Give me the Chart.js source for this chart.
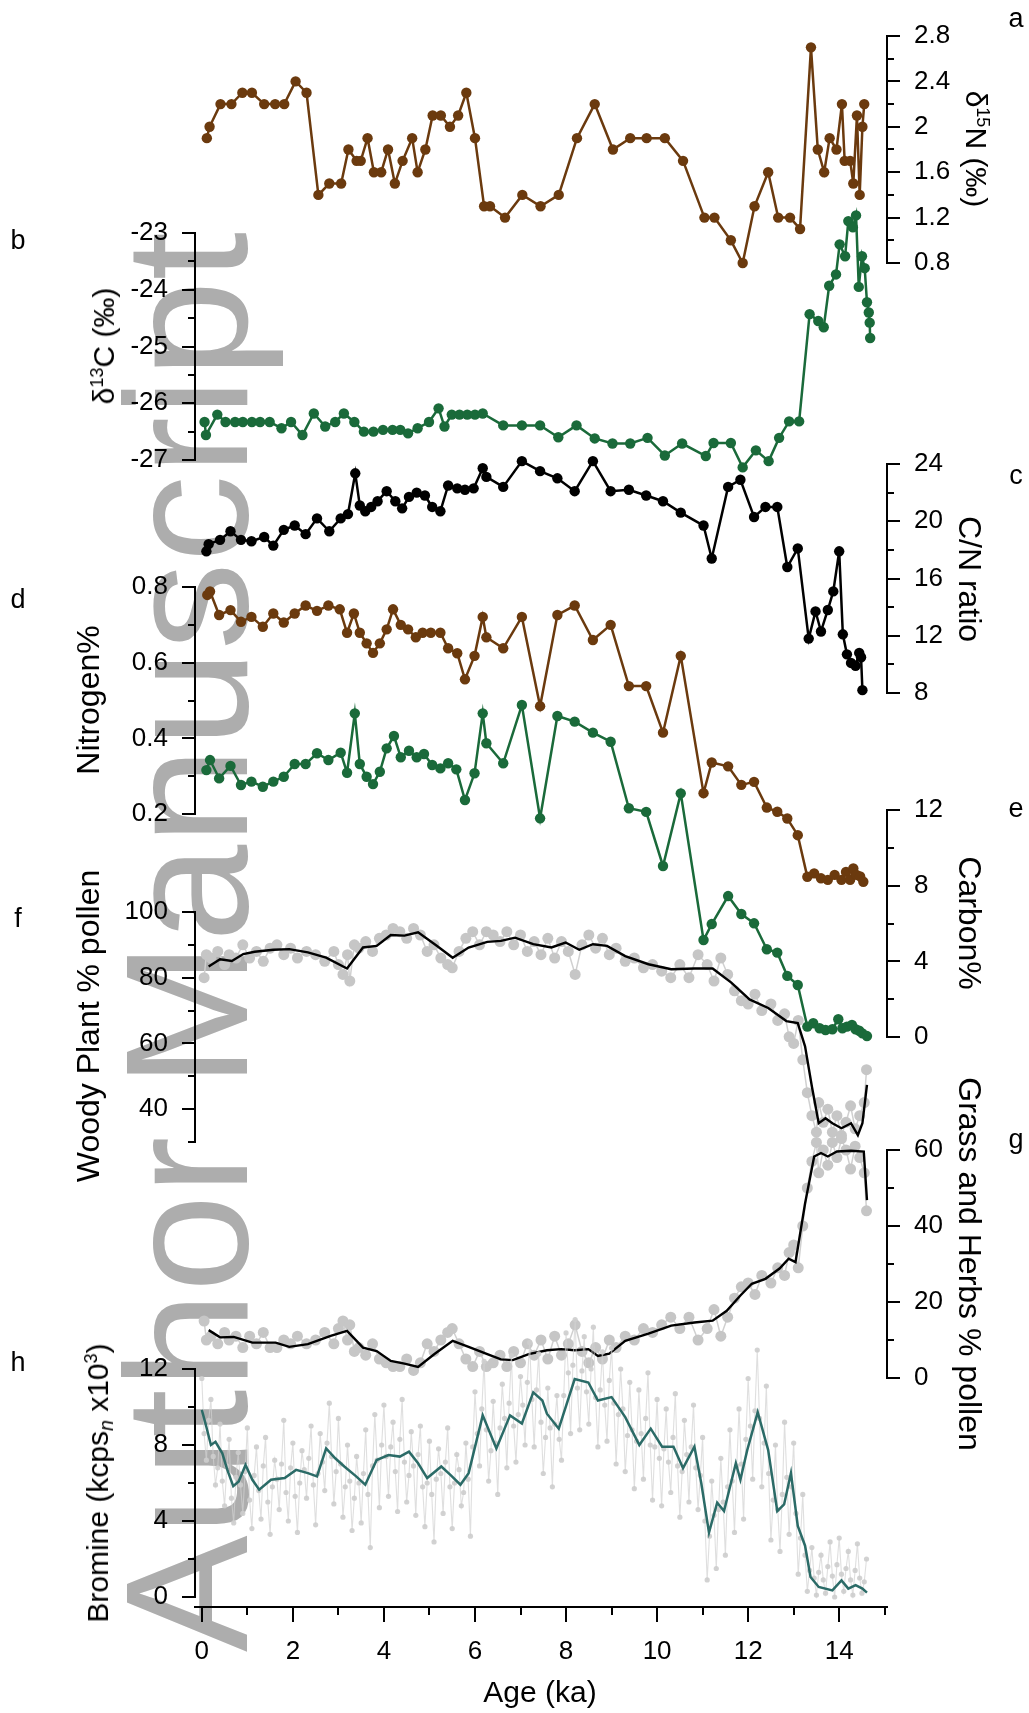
<!DOCTYPE html>
<html>
<head>
<meta charset="utf-8">
<script src="https://cdn.jsdelivr.net/npm/chart.js@4.4.0/dist/chart.umd.min.js"></script>
<style>
html,body{margin:0;padding:0;background:#fff;}
#wrap{position:relative;width:1029px;height:1713px;overflow:hidden;font-family:'Liberation Sans',Arial,sans-serif;background:#fff;}
canvas{position:absolute;left:0;top:0;}
.wm{position:absolute;left:0;top:0;white-space:nowrap;font-size:175px;line-height:1;color:#adadad;transform-origin:0 0;transform:translate(99px,1652px) rotate(-90deg);}
.t{position:absolute;white-space:nowrap;color:#000;font-size:32px;line-height:1;}
.l{transform:translate(-50%,-50%) rotate(-90deg);}
.r{transform:translate(-50%,-50%) rotate(90deg);}
.c{transform:translate(-50%,-50%);}
.lt{font-size:27px;}
.ax{font-size:30px;}
sup{font-size:0.6em;vertical-align:0.6em;line-height:0;}
sub{font-size:0.65em;vertical-align:-0.25em;line-height:0;}
</style>
</head>
<body>
<div id="wrap">
<div class="wm">Author Manuscript</div>
</div>
<script>
// ---------------- data ----------------
const aAge = [0.11,0.17,0.41,0.65,0.89,1.10,1.37,1.61,1.81,2.06,2.30,2.56,2.80,3.06,3.22,3.40,3.49,3.64,3.78,3.94,4.09,4.24,4.41,4.62,4.74,4.91,5.07,5.25,5.45,5.63,5.81,6.00,6.20,6.33,6.66,7.04,7.44,7.84,8.24,8.63,9.03,9.41,9.77,10.17,10.57,11.04,11.26,11.62,11.88,12.14,12.44,12.66,12.92,13.14,13.38,13.53,13.67,13.79,13.94,14.06,14.12,14.24,14.31,14.39,14.45,14.51,14.55];
const d15N = [1.9,2.0,2.2,2.2,2.3,2.3,2.2,2.2,2.2,2.4,2.3,1.4,1.5,1.5,1.8,1.7,1.7,1.9,1.6,1.6,1.8,1.5,1.7,1.9,1.6,1.8,2.1,2.1,2.0,2.1,2.3,1.9,1.3,1.3,1.2,1.4,1.3,1.4,1.9,2.2,1.8,1.9,1.9,1.9,1.7,1.2,1.2,1.0,0.8,1.3,1.6,1.2,1.2,1.1,2.7,1.8,1.6,1.9,1.8,2.2,1.7,1.7,1.5,2.1,1.4,2.0,2.2];

const bAge = [0.06,0.09,0.34,0.52,0.73,0.90,1.10,1.28,1.49,1.75,1.96,2.21,2.46,2.71,2.93,3.12,3.35,3.56,3.77,3.98,4.19,4.36,4.53,4.74,4.99,5.20,5.33,5.49,5.66,5.83,6.00,6.17,6.62,7.03,7.43,7.83,8.23,8.63,9.02,9.41,9.79,10.17,10.55,11.07,11.24,11.62,11.88,12.17,12.45,12.68,12.90,13.12,13.35,13.54,13.66,13.78,13.93,14.01,14.13,14.20,14.30,14.37,14.43,14.50,14.56,14.61,14.65,14.67,14.68];
const d13C = [-26.33,-26.56,-26.2,-26.33,-26.33,-26.33,-26.33,-26.33,-26.33,-26.44,-26.33,-26.56,-26.18,-26.41,-26.33,-26.18,-26.33,-26.5,-26.5,-26.47,-26.47,-26.47,-26.53,-26.44,-26.33,-26.09,-26.41,-26.2,-26.2,-26.2,-26.2,-26.18,-26.39,-26.39,-26.39,-26.6,-26.39,-26.62,-26.71,-26.71,-26.61,-26.92,-26.71,-26.93,-26.7,-26.7,-27.13,-26.83,-27.02,-26.61,-26.32,-26.32,-24.43,-24.55,-24.66,-23.93,-23.73,-23.2,-23.41,-22.79,-22.9,-22.69,-23.95,-23.41,-23.62,-24.22,-24.4,-24.58,-24.85];

const cAge = [0.10,0.15,0.40,0.63,0.86,1.09,1.37,1.57,1.80,2.04,2.28,2.53,2.80,3.05,3.21,3.37,3.47,3.59,3.72,3.86,4.06,4.25,4.40,4.55,4.72,4.90,5.06,5.24,5.41,5.61,5.78,5.97,6.17,6.25,6.62,7.03,7.43,7.81,8.19,8.59,8.98,9.38,9.76,10.13,10.52,11.02,11.20,11.56,11.83,12.13,12.38,12.64,12.86,13.09,13.33,13.48,13.60,13.75,13.87,14.00,14.08,14.17,14.26,14.36,14.44,14.48,14.51];
const cnRatio = [17.9,18.4,18.7,19.3,18.7,18.6,18.9,18.3,19.4,19.7,19.1,20.2,19.3,20.2,20.5,23.35,21.1,20.7,21.0,21.4,22.1,21.4,20.9,21.7,22.0,21.8,21.0,20.7,22.5,22.3,22.2,22.3,23.7,23.1,22.4,24.2,23.5,23.0,22.1,24.2,22.1,22.2,21.8,21.4,20.6,19.7,17.4,22.4,22.9,20.3,21.0,21.0,16.8,18.1,11.8,13.7,12.3,13.8,15.1,17.9,12.1,10.7,10.1,9.9,10.8,10.5,8.2];

const dAge = [0.12,0.18,0.38,0.63,0.86,1.09,1.34,1.57,1.80,2.04,2.28,2.53,2.78,3.03,3.19,3.34,3.47,3.62,3.76,3.91,4.06,4.20,4.37,4.53,4.70,4.85,5.03,5.24,5.41,5.61,5.78,5.99,6.17,6.25,6.62,7.03,7.43,7.81,8.19,8.59,8.98,9.38,9.76,10.13,10.52,11.02,11.20,11.56,11.85,12.13,12.41,12.64,12.86,13.09,13.30,13.45,13.60,13.75,13.90,14.05,14.15,14.24,14.31,14.38,14.46,14.53];
const nitrogen = [0.779,0.788,0.726,0.739,0.708,0.721,0.695,0.730,0.706,0.730,0.751,0.737,0.751,0.741,0.679,0.730,0.679,0.651,0.626,0.651,0.688,0.741,0.700,0.688,0.667,0.679,0.679,0.679,0.638,0.625,0.556,0.618,0.721,0.667,0.638,0.721,0.485,0.726,0.751,0.660,0.700,0.538,0.538,0.415,0.618,0.255,0.336,0.326,0.277,0.285,0.217,0.206,0.188,0.144,0.034,0.043,0.030,0.026,0.039,0.026,0.047,0.026,0.056,0.039,0.035,0.021];

const eAge = [0.10,0.18,0.38,0.63,0.86,1.09,1.34,1.57,1.80,2.04,2.28,2.53,2.78,3.05,3.19,3.36,3.47,3.62,3.76,3.91,4.06,4.22,4.37,4.55,4.72,4.88,5.06,5.24,5.41,5.59,5.78,5.99,6.17,6.25,6.62,7.03,7.43,7.81,8.19,8.59,8.98,9.38,9.76,10.13,10.52,11.02,11.20,11.56,11.85,12.13,12.41,12.64,12.86,13.09,13.30,13.43,13.57,13.70,13.85,13.98,14.07,14.17,14.28,14.36,14.44,14.51,14.61];
const carbon = [14.11,14.64,13.67,14.33,13.32,13.50,13.23,13.50,13.76,14.43,14.43,15.0,14.64,15.03,13.97,17.11,14.43,13.76,13.37,14.02,15.26,15.91,14.79,15.13,14.79,14.96,14.38,14.20,14.47,14.15,12.53,13.94,17.11,15.53,14.47,17.55,11.56,16.97,16.67,16.09,15.61,12.09,11.9,9.04,12.88,5.13,5.97,7.45,6.50,6.01,4.64,4.46,3.23,2.75,0.55,0.73,0.46,0.37,0.41,0.94,0.46,0.55,0.64,0.41,0.33,0.19,0.05];

const pollenAge = [0.05,0.1,0.2,0.35,0.5,0.6,0.75,0.9,1.05,1.2,1.35,1.5,1.65,1.8,1.95,2.1,2.3,2.5,2.7,2.9,3.0,3.1,3.2,3.25,3.35,3.45,3.6,3.75,3.9,4.05,4.2,4.35,4.5,4.65,4.8,4.95,5.1,5.25,5.4,5.5,5.65,5.8,5.95,6.1,6.25,6.4,6.55,6.7,6.85,7.0,7.15,7.3,7.45,7.6,7.75,7.9,8.05,8.2,8.35,8.5,8.65,8.8,8.95,9.1,9.3,9.5,9.7,9.9,10.1,10.3,10.5,10.7,10.9,11.1,11.25,11.4,11.55,11.7,11.85,12.0,12.15,12.3,12.5,12.65,12.8,12.9,13.0,13.1,13.2,13.3,13.4,13.5,13.55,13.65,13.75,13.85,13.95,14.05,14.15,14.25,14.35,14.45,14.55,14.6];
const woodyRaw = [80,87,86,88,84,87,86,90,86,88,85,89,90,87,89,86,88,87,85,88,84,81,87,79,90,89,91,88,92,93,95,94,92,95,93,88,90,86,84,83,88,92,94,90,94,93,91,94,90,93,88,91,87,92,86,91,88,81,90,93,89,92,87,89,85,86,83,84,82,80,84,80,87,84,79,86,81,76,73,72,75,70,72,67,69,62,60,67,55,45,38,33,42,36,40,33,38,32,36,41,34,38,42,52];
const grassRaw = [15,10,11,9,12,10,11,8,11,9,12,8,8,10,9,11,9,10,12,9,13,15,10,14,7,8,6,9,5,4,3,3,5,2,4,9,7,10,12,13,9,5,3,7,3,4,6,3,7,4,9,6,10,5,11,6,9,14,7,4,8,5,10,8,11,10,13,12,14,16,13,16,10,13,18,11,16,21,24,25,22,27,25,29,27,33,35,29,40,50,57,62,54,60,56,62,58,63,60,55,61,58,54,44];

const fAge = [0.15,0.40,0.66,0.91,1.16,1.57,1.92,2.33,2.73,3.19,3.54,3.84,4.15,4.45,4.75,5.16,5.51,5.86,6.27,6.57,6.88,7.28,7.68,7.99,8.29,8.59,8.90,9.30,9.81,10.31,10.82,11.22,11.63,12.03,12.44,12.84,13.09,13.25,13.40,13.55,13.70,13.85,14.05,14.26,14.41,14.51,14.61];
const woodySmooth = [83.4,85.6,85.1,87.2,87.9,88.5,88.7,87.7,86.1,82.8,89.2,89.7,93.0,92.8,93.8,89.7,86.1,89.2,90.9,91.2,92.2,90.2,89.2,90.7,88.5,90.2,89.7,86.6,84.1,82.6,82.8,82.8,78.5,73.4,70.8,66.8,66.2,59.1,46.9,35.7,37.2,35.7,34.2,35.7,32.1,35.7,47.4];

const gAge = [0.15,0.40,0.70,1.11,1.62,1.92,2.33,2.83,3.19,3.54,3.84,4.15,4.45,4.75,5.11,5.51,5.86,6.27,6.57,6.83,7.18,7.58,7.89,8.19,8.49,8.70,8.95,9.30,9.81,10.31,10.82,11.22,11.53,11.83,12.08,12.38,12.69,12.89,13.04,13.25,13.45,13.60,13.75,13.95,14.26,14.54,14.61];
const grassSmooth = [12.6,10.7,10.8,9.3,9.3,8.2,8.9,11.1,12.4,8.0,7.1,4.5,3.8,2.9,6.3,9.8,8.2,6.3,4.9,4.7,6.3,7.3,7.6,7.3,7.6,5.8,6.4,9.8,11.7,13.8,14.6,15.1,17.7,21.7,24.8,26.1,28.8,31.4,30.5,45.9,58.3,59.2,58.3,59.6,59.8,59.6,46.8];

const brAgeA = [0.0,0.1,0.2,0.3,0.4,0.5,0.6,0.7,0.8,0.9,1.0,1.1,1.2,1.3,1.4,1.5,1.6,1.7,1.8,1.9,2.0,2.1,2.2,2.3,2.4,2.5,2.6,2.7,2.8,2.9,3.0,3.1,3.2,3.3,3.4,3.5,3.6,3.7,3.8,3.9,4.0,4.1,4.2,4.3,4.4,4.5,4.6,4.7,4.8,4.9,5.0,5.1,5.2,5.3,5.4,5.5,5.6,5.7,5.8,5.9,6.0,6.1,6.2,6.3,6.4,6.5,6.6,6.7,6.8,6.9,7.0,7.1,7.2,7.3,7.4,7.5,7.6,7.7,7.8,7.9,8.0,8.1,8.2,8.3,8.4,8.5,8.6,8.7,8.8,8.9,9.0,9.1,9.2,9.3,9.4,9.5,9.6,9.7,9.8,9.9,10.0,10.1,10.2,10.3,10.4,10.5,10.6,10.7,10.8,10.9,11.0,11.1,11.2,11.3,11.4,11.5,11.6,11.7,11.8,11.9,12.0,12.1,12.2,12.3,12.4,12.5,12.6,12.7,12.8,12.9,13.0,13.1,13.2,13.3,13.4,13.5,13.6,13.7,13.8,13.9,14.0,14.1,14.2,14.3,14.4,14.5,14.6];
const brRawA = [11.5,7.2,10.4,5.9,9.1,4.8,8.3,3.9,7.6,4.4,8.9,3.6,7.9,4.1,8.4,3.3,7.2,4.6,9.3,4.0,8.1,3.4,7.7,5.2,9.0,3.8,8.6,5.6,10.2,4.9,9.4,4.2,8.0,3.5,7.4,3.9,8.8,2.6,9.6,4.7,10.1,5.3,9.2,4.5,10.4,5.0,8.7,4.3,9.0,3.7,8.2,2.9,7.8,4.4,8.9,3.6,7.5,4.8,8.1,3.2,10.8,6.9,12.4,6.1,10.3,5.4,11.2,6.8,12.7,7.1,11.6,8.0,13.4,7.9,12.8,6.5,11.0,5.8,10.6,7.2,13.9,8.6,14.6,8.8,13.7,9.1,14.2,7.9,12.9,8.2,13.1,7.0,12.0,6.6,11.3,5.7,10.9,6.2,11.8,5.1,10.4,4.8,9.9,5.5,10.7,4.2,9.3,5.0,10.1,4.6,8.4,0.9,6.1,1.5,7.3,2.2,8.8,3.4,9.9,4.1,11.5,6.2,13.0,5.8,11.1,3.0,8.0,2.4,9.2,3.3,8.1,1.2,5.4,0.3,2.6,0.1,2.2,0.2,2.9,0.0,3.1,0.3,2.4,0.1,2.8,0.2,2.0];
const brAgeB = [0.05,0.15,0.25,0.35,0.45,0.55,0.65,0.75,0.85,0.95,1.05,1.15,1.25,1.35,1.45,1.55,1.65,1.75,1.85,1.95,2.05,2.15,2.25,2.35,2.45,2.55,2.65,2.75,2.85,2.95,3.05,3.15,3.25,3.35,3.45,3.55,3.65,3.75,3.85,3.95,4.05,4.15,4.25,4.35,4.45,4.55,4.65,4.75,4.85,4.95,5.05,5.15,5.25,5.35,5.45,5.55,5.65,5.75,5.85,5.95,6.05,6.15,6.25,6.35,6.45,6.55,6.65,6.75,6.85,6.95,7.05,7.15,7.25,7.35,7.45,7.55,7.65,7.75,7.85,7.95,8.05,8.15,8.25,8.35,8.45,8.55,8.65,8.75,8.85,8.95,9.05,9.15,9.25,9.35,9.45,9.55,9.65,9.75,9.85,9.95,10.05,10.15,10.25,10.35,10.45,10.55,10.65,10.75,10.85,10.95,11.05,11.15,11.25,11.35,11.45,11.55,11.65,11.75,11.85,11.95,12.05,12.15,12.25,12.35,12.45,12.55,12.65,12.75,12.85,12.95,13.05,13.15,13.25,13.35,13.45,13.55,13.65,13.75,13.85,13.95,14.05,14.15,14.25,14.35,14.45,14.55];
const brRawB = [8.6,9.3,7.4,6.8,6.1,6.9,5.2,6.3,5.9,6.6,5.1,6.4,5.6,6.9,5.0,5.8,6.2,7.0,5.5,6.8,5.3,6.0,6.7,7.3,5.9,6.5,7.1,8.1,7.4,6.6,7.0,5.8,6.1,5.2,6.0,6.5,5.4,6.9,7.2,8.0,7.4,7.9,6.6,8.3,7.1,6.4,6.9,7.5,5.8,6.0,5.4,6.2,6.5,7.1,5.8,6.0,6.7,5.5,6.2,7.9,8.6,9.9,8.8,7.7,8.1,8.9,9.4,10.2,9.0,9.6,10.1,11.3,10.4,10.9,9.2,8.4,8.9,9.1,8.3,10.6,11.8,12.2,11.0,11.9,10.8,12.0,10.5,10.9,10.1,11.4,10.2,9.6,9.9,8.5,8.8,8.2,8.6,9.4,8.0,7.9,7.3,7.8,7.1,8.4,6.9,6.6,7.5,7.9,6.8,6.4,4.0,3.2,4.3,4.6,5.0,5.8,6.1,6.9,7.0,8.3,9.0,9.8,9.4,8.1,6.5,5.1,4.6,5.4,6.3,5.8,4.4,3.1,2.2,1.4,1.0,1.3,0.9,1.6,1.1,1.7,1.2,1.5,0.9,1.4,1.0,0.8];

const hAge = [0.0,0.1,0.2,0.3,0.45,0.56,0.69,0.81,0.96,1.11,1.26,1.52,1.82,2.07,2.33,2.53,2.73,2.93,3.13,3.39,3.59,3.84,4.10,4.35,4.55,4.75,4.95,5.26,5.46,5.68,5.86,6.17,6.47,6.77,7.03,7.28,7.48,7.58,7.84,8.19,8.49,8.70,9.00,9.30,9.61,9.86,10.11,10.36,10.57,10.82,10.97,11.14,11.32,11.47,11.73,11.83,11.98,12.21,12.44,12.64,12.79,12.94,13.09,13.25,13.37,13.55,13.85,14.05,14.20,14.36,14.51,14.61];
const brSmooth = [9.85,8.95,8.0,8.17,7.56,6.69,5.83,6.08,6.95,6.17,5.65,6.17,6.26,6.69,6.52,6.35,7.82,7.3,6.87,6.35,5.91,7.21,7.47,7.39,7.65,7.04,6.26,6.87,6.43,5.91,6.52,9.56,7.82,9.56,9.13,10.77,10.34,9.65,8.86,11.47,11.29,10.34,10.52,9.47,8.0,8.86,7.91,7.91,6.78,7.91,6.0,3.39,4.96,4.52,7.04,6.17,7.73,9.73,7.73,4.52,4.87,6.52,3.74,2.7,1.05,0.53,0.35,0.87,0.44,0.62,0.44,0.23];

// tick values
const xMajor = [0,2,4,6,8,10,12,14];
const xMinor = [1,3,5,7,9,11,13,15];
const aMajor = [0.8,1.2,1.6,2,2.4,2.8], aMinor = [1.0,1.4,1.8,2.2,2.6];
const bMajor = [-27,-26,-25,-24,-23], bMinor = [-26.5,-25.5,-24.5,-23.5];
const cMajor = [8,12,16,20,24], cMinor = [10,14,18,22];
const dMajor = [0.2,0.4,0.6,0.8], dMinor = [0.3,0.5,0.7];
const eMajor = [0,4,8,12], eMinor = [2,6,10];
const fMajor = [40,60,80,100], fMinor = [30,50,70,90];
const gMajor = [0,20,40,60], gMinor = [10,30,50];
const hMajor = [0,4,8,12], hMinor = [2,6,10];

// ---------------- layout ----------------
const W = 1029, H = 1713;
const X_MIN = -0.15, X_MAX = 15.05;
const LEFT = 195, RIGHT = 887;
const FONT = "'Liberation Sans', Arial, sans-serif";
const BROWN = '#6b3a0e', GREEN = '#1a6a3a', TEAL = '#2b6b67';
const wrap = document.getElementById('wrap');

function pts(ages, vals){ return ages.map((a,i)=>({x:a, y:vals[i]})); }

// minor ticks drawn from the scale's own pixel mapping
Chart.register({
  id:'minorTicks',
  afterDraw(chart, args, opts){
    const ctx = chart.ctx, ca = chart.chartArea;
    (opts.items||[]).forEach(it=>{
      const sc = chart.scales[it.scale];
      ctx.save(); ctx.strokeStyle='#000'; ctx.lineWidth=2; ctx.beginPath();
      it.values.forEach(v=>{
        const p = Math.round(sc.getPixelForValue(v));
        if (it.side==='left'){ ctx.moveTo(ca.left, p); ctx.lineTo(ca.left - it.len, p); }
        else if (it.side==='right'){ ctx.moveTo(ca.right, p); ctx.lineTo(ca.right + it.len, p); }
        else { ctx.moveTo(p, ca.bottom); ctx.lineTo(p, ca.bottom + it.len); }
      });
      ctx.stroke(); ctx.restore();
    });
  }
});
// let points outside a panel's own axis range still be drawn (data overflow as in the figure)
Chart.register({
  id:'freePoints',
  beforeDatasetsDraw(chart){
    chart.$savedArea = chart.chartArea;
    chart.chartArea = {left:0, top:0, right:chart.width, bottom:chart.height, width:chart.width, height:chart.height};
  },
  afterDatasetsDraw(chart){ if (chart.$savedArea) chart.chartArea = chart.$savedArea; }
});

function newCanvas(){
  const cv = document.createElement('canvas');
  cv.width = W; cv.height = H;
  cv.style.width = W+'px'; cv.style.height = H+'px';
  wrap.appendChild(cv);
  return cv;
}

function markerSet(data, color){
  return {data, borderColor:color, backgroundColor:color, pointBackgroundColor:color,
    borderWidth:2.5, pointRadius:5.2, pointBorderWidth:0, tension:0, clip:false};
}

function panel(cfg){
  const side = cfg.side;
  new Chart(newCanvas(), {
    type:'line',
    data:{datasets:cfg.datasets},
    options:{
      responsive:false, animation:false, events:[], devicePixelRatio:1,
      layout:{padding:{top:cfg.top, bottom:H-cfg.bottom, left: side==='left'?0:LEFT, right: side==='left'?W-RIGHT:0}},
      plugins:{legend:{display:false}, tooltip:{enabled:false},
        minorTicks:{items:[{scale:'y', side:side, len:7, values:cfg.minor}]}},
      scales:{
        x:{type:'linear', min:X_MIN, max:X_MAX, display:false},
        y:{type:'linear', position:side, min:cfg.min, max:cfg.max,
          afterFit:s=>{ s.width = side==='left'?LEFT:W-RIGHT; },
          afterBuildTicks:s=>{ s.ticks = cfg.major.map(v=>({value:v})); },
          border:{display:true, color:'#000', width:2},
          grid:{drawOnChartArea:false, drawTicks:true, tickLength:13, color:'#000', lineWidth:2},
          ticks:{color:'#000', autoSkip:false, padding:14, font:{family:FONT, size:26}, callback:v=>String(v)}
        }
      }
    }
  });
}

// a: d15N (right)
panel({side:'right', top:36, bottom:263, min:0.8, max:2.8, major:aMajor, minor:aMinor,
  datasets:[markerSet(pts(aAge,d15N), BROWN)]});
// b: d13C (left)
panel({side:'left', top:233, bottom:460, min:-27, max:-23, major:bMajor, minor:bMinor,
  datasets:[markerSet(pts(bAge,d13C), GREEN)]});
// c: C/N (right)
panel({side:'right', top:464, bottom:693, min:8, max:24, major:cMajor, minor:cMinor,
  datasets:[markerSet(pts(cAge,cnRatio), '#000')]});
// d: Nitrogen (left)
panel({side:'left', top:587, bottom:814, min:0.2, max:0.8, major:dMajor, minor:dMinor,
  datasets:[markerSet(pts(dAge,nitrogen), BROWN)]});
// e: Carbon (right)
panel({side:'right', top:810, bottom:1037, min:0, max:12, major:eMajor, minor:eMinor,
  datasets:[markerSet(pts(eAge,carbon), GREEN)]});
// f: Woody (left)
panel({side:'left', top:912, bottom:1142, min:30, max:100, major:fMajor, minor:fMinor,
  datasets:[
    {data:pts(fAge,woodySmooth), borderColor:'#000', borderWidth:2.4, pointRadius:0, tension:0, clip:false, order:0},
    {data:pts(pollenAge,woodyRaw), borderColor:'#d0d0d0', backgroundColor:'#c6c6c6', pointBackgroundColor:'#c6c6c6', borderWidth:1.5, pointRadius:5.5, pointBorderWidth:0, tension:0, clip:false, order:1}
  ]});
// g: Grass (right)
panel({side:'right', top:1150, bottom:1378, min:0, max:60, major:gMajor, minor:gMinor,
  datasets:[
    {data:pts(gAge,grassSmooth), borderColor:'#000', borderWidth:2.4, pointRadius:0, tension:0, clip:false, order:0},
    {data:pts(pollenAge,grassRaw), borderColor:'#d0d0d0', backgroundColor:'#c6c6c6', pointBackgroundColor:'#c6c6c6', borderWidth:1.5, pointRadius:5.5, pointBorderWidth:0, tension:0, clip:false, order:1}
  ]});
// h: Bromine (left) — raw series built from its two sample lists, ordered by age
const brRawPts = pts(brAgeA, brRawA).concat(pts(brAgeB, brRawB)).sort((p,q)=>p.x-q.x);
panel({side:'left', top:1369, bottom:1597, min:0, max:12, major:hMajor, minor:hMinor,
  datasets:[
    {data:pts(hAge,brSmooth), borderColor:TEAL, borderWidth:2.5, pointRadius:0, tension:0, clip:false, order:0},
    {data:brRawPts, borderColor:'rgba(210,210,210,0.7)', backgroundColor:'#dcdcdc', pointBackgroundColor:'rgba(205,205,205,0.9)', borderWidth:1.1, pointRadius:2.6, pointBorderWidth:0, tension:0, clip:false, order:1}
  ]});

// x axis
new Chart(newCanvas(), {
  type:'line',
  data:{datasets:[]},
  options:{
    responsive:false, animation:false, events:[], devicePixelRatio:1,
    layout:{padding:{top:1369, bottom:H-1607-100, left:LEFT, right:W-RIGHT}},
    plugins:{legend:{display:false}, tooltip:{enabled:false},
      minorTicks:{items:[{scale:'x', side:'bottom', len:8, values:xMinor}]}},
    scales:{
      x:{type:'linear', position:'bottom', min:X_MIN, max:X_MAX,
        afterFit:s=>{ s.height = 100; },
        afterBuildTicks:s=>{ s.ticks = xMajor.map(v=>({value:v})); },
        border:{display:true, color:'#000', width:2},
        grid:{drawOnChartArea:false, drawTicks:true, tickLength:15, color:'#000', lineWidth:2},
        ticks:{color:'#000', autoSkip:false, maxRotation:0, padding:14, font:{family:FONT, size:26}, callback:v=>String(v)}
      },
      y:{display:false, min:0, max:1}
    }
  }
});

// ---------------- text ----------------
function txt(html, cls, x, y){
  const d = document.createElement('div');
  d.className = 't ' + cls;
  d.style.left = x+'px'; d.style.top = y+'px';
  d.innerHTML = html;
  wrap.appendChild(d);
}
txt('δ<sup>15</sup>N (‰)', 'r ax', 976, 149);
txt('δ<sup>13</sup>C (‰)', 'l ax', 104, 346);
txt('C/N ratio', 'r', 970, 579);
txt('Nitrogen%', 'l', 88, 700);
txt('Carbon%', 'r', 970, 923);
txt('Woody Plant % pollen', 'l', 88, 1026);
txt('Grass and Herbs % pollen', 'r', 970, 1264);
txt('Bromine (kcps<sub><i>n</i></sub> x10<sup>3</sup>)', 'l ax', 98, 1483);
txt('Age (ka)', 'c ax', 540, 1692);
[['a',1016,18],['c',1016,475],['e',1016,808],['g',1016,1139],['b',18,240],['d',18,599],['f',18,918],['h',18,1362]]
  .forEach(([t,x,y])=>txt(t,'c lt',x,y));
</script>
</body>
</html>
